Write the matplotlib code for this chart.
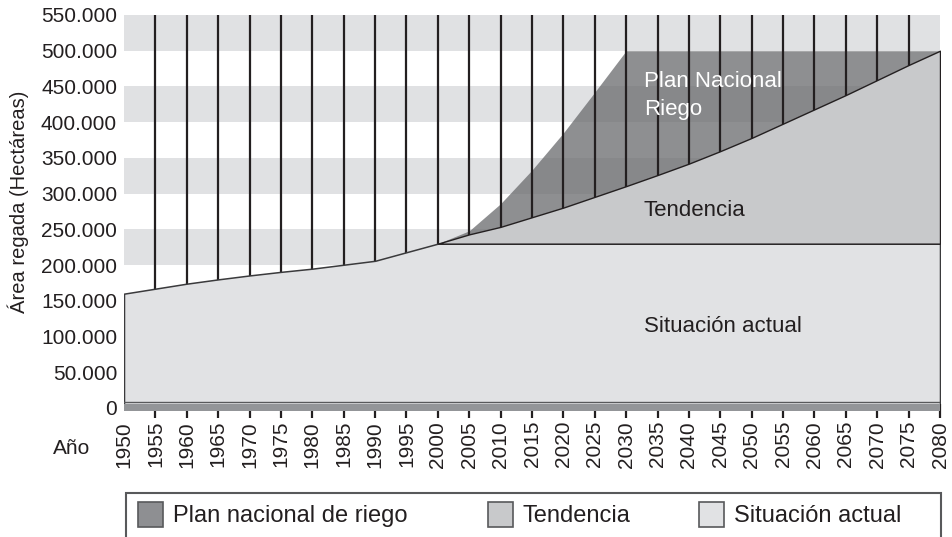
import matplotlib
matplotlib.use("Agg")
import matplotlib.pyplot as plt
from matplotlib.patches import Rectangle

plt.rcParams['font.family'] = ['Liberation Sans', 'DejaVu Sans']

# Data (hectares)
years = [1950, 1955, 1960, 1965, 1970, 1975, 1980, 1985, 1990, 1995, 2000,
         2005, 2010, 2015, 2020, 2025, 2030, 2035, 2040, 2045, 2050, 2055,
         2060, 2065, 2070, 2075, 2080]
situacion_actual = [160000, 167000, 174000, 180000, 185500, 190500, 195000,
                    200500, 206000, 218000, 230000, 230000, 230000, 230000,
                    230000, 230000, 230000, 230000, 230000, 230000, 230000,
                    230000, 230000, 230000, 230000, 230000, 230000]
proj_years = [2000, 2005, 2010, 2015, 2020, 2025, 2030, 2035, 2040, 2045,
              2050, 2055, 2060, 2065, 2070, 2075, 2080]
tendencia = [230000, 243000, 253500, 267000, 280500, 295500, 310500, 326000,
             342000, 359500, 378000, 398000, 418000, 438000, 459000, 480000,
             500000]
plan_nacional = [230000, 248000, 286000, 333000, 385000, 442000, 500000,
                 500000, 500000, 500000, 500000, 500000, 500000, 500000,
                 500000, 500000, 500000]
y_ticks = [0, 50000, 100000, 150000, 200000, 250000, 300000, 350000, 400000,
           450000, 500000, 550000]
legend_labels = ['Plan nacional de riego', 'Tendencia', 'Situación actual']

C_PLAN = '#6c6d70'
C_TEND = '#c8c9cb'
C_SIT = '#e1e2e4'
C_BAND = '#e0e1e3'
C_INK = '#231f20'
legend_colors = ['#8e8f92', C_TEND, C_SIT]

W, H = 953, 537
fig = plt.figure(figsize=(W / 100, H / 100), dpi=100)
ax = fig.add_axes([124 / W, 1 - 411.2 / H, 816 / W, 396.2 / H])
ax.set_xlim(years[0], years[-1])
ax.set_ylim(-4500, 550000)

# alternating horizontal bands
for lo in y_ticks[0:-1:2]:
    ax.axhspan(lo, lo + 50000, color=C_BAND, lw=0, zorder=0)

# plan area (translucent, shows bands through)
ax.fill_between(proj_years, tendencia, plan_nacional, color=C_PLAN,
                alpha=0.77, lw=0, zorder=1)

# vertical year lines
ax.vlines(years[1:-1], 0, 550000, color=C_INK, lw=1.6, zorder=1.2)

# current situation area
ax.fill_between(years, 0, situacion_actual, facecolor=C_SIT,
                edgecolor='#3a3a3c', lw=1.1, zorder=1.4)
ax.axhline(8000, color='#58595b', lw=1, zorder=1.45)

# trend area
ax.fill_between(proj_years, situacion_actual[10:], tendencia,
                facecolor=C_TEND, edgecolor=C_INK, lw=1, zorder=1.5)

# base bar
ax.axhspan(-4500, 5600, color='#939598', lw=0, zorder=2)

for s in ax.spines.values():
    s.set_visible(False)

ax.set_xticks(years)
ax.set_xticklabels([str(y) for y in years], rotation=90)
ax.tick_params(axis='x', direction='inout', length=10, width=1.6,
               color=C_INK, pad=2, labelsize=15, labelcolor=C_INK)
ax.get_xaxis().get_major_ticks()[0].tick1line.set_visible(False)

ax.set_yticks(y_ticks)
ax.set_yticklabels([f"{v:,}".replace(',', '.') for v in y_ticks])
ax.tick_params(axis='y', length=0, pad=5, labelsize=15, labelcolor=C_INK)

# area labels
ax.text(2032.8, 449700, 'Plan Nacional', color='white', fontsize=16,
        va='baseline', zorder=5)
ax.text(2032.8, 410000, 'Riego', color='white', fontsize=16,
        va='baseline', zorder=5)
ax.text(2032.8, 269000, 'Tendencia', color=C_INK, fontsize=16,
        va='baseline', zorder=5)
ax.text(2032.8, 106800, 'Situación actual', color=C_INK, fontsize=16,
        va='baseline', zorder=5)

fig.text(72 / W, 1 - 449 / H, 'Año', ha='center', va='center',
         fontsize=15, color=C_INK)
fig.text(18 / W, 1 - 202 / H, 'Área regada (Hectáreas)', rotation=90,
         ha='center', va='center', fontsize=14.5, color=C_INK)

# legend box
fig.add_artist(Rectangle((125.7 / W, 1 - 560 / H), 815.3 / W, 67 / H,
                         transform=fig.transFigure, fill=False,
                         edgecolor='#58595b', lw=1.5, clip_on=False))
patch_x = [138, 488, 699]
for px, lab, col in zip(patch_x, legend_labels, legend_colors):
    fig.add_artist(Rectangle((px / W, 1 - 527 / H), 25 / W, 25 / H,
                             transform=fig.transFigure, facecolor=col,
                             edgecolor='#58595b', lw=1.2))
    fig.text((px + 35) / W, 1 - 521.7 / H, lab, fontsize=17, va='baseline',
             color=C_INK)

fig.savefig('out.png', dpi=100)
